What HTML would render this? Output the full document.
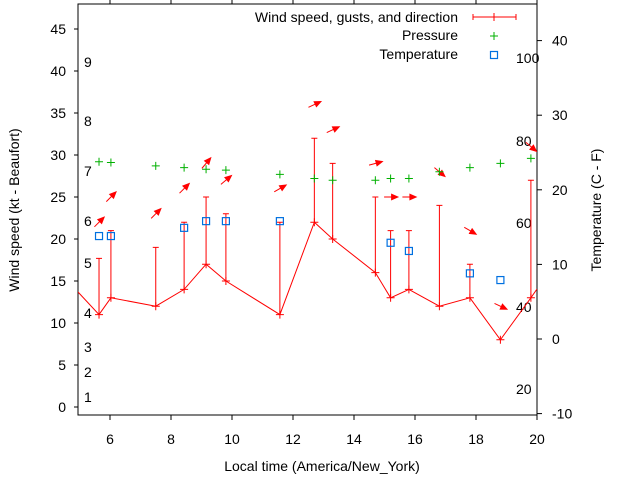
<!DOCTYPE html>
<html><head><meta charset="utf-8"><style>
body{margin:0;background:#fff}
svg text{font-family:"Liberation Sans",sans-serif;}
</style></head><body>
<svg id="c" width="640" height="480" xmlns="http://www.w3.org/2000/svg"></svg>
<script>
const times=[5.64,6.03,7.5,8.43,9.15,9.8,11.57,12.7,13.3,14.7,15.2,15.8,16.8,17.8,18.8,19.8];
const wind=[11,13,12,14,17,15,11,22,20,16,13,14,12,13,8,13];
const gusts=[17.7,21,19,22,25,23,22,32,29,25,21,21,24,17,null,27];
const pressure=[29.2,29.1,28.7,28.5,28.3,28.2,27.7,27.2,27,27,27.2,27.2,28,28.5,29,29.6];
const arrowY=[22,25,23,26,29,27,26,36,33,29,25,25,28,21,12,31];
const arrowDir=[-45,-45,-45,-45,-50,-40,-30,-25,-25,-15,0,0,40,30,25,40];
const tempTimes=[5.64,6.03,8.43,9.15,9.8,11.57,15.2,15.8,17.8,18.8];
const tempC=[13.8,13.8,14.9,15.8,15.8,15.8,12.9,11.8,8.8,7.9];
const xTicks=[6,8,10,12,14,16,18,20];
const yTicks=[0,5,10,15,20,25,30,35,40,45];
const y2Ticks=[-10,0,10,20,30,40];
const beaufort=[[1,397],[2,372],[3,347],[4,313],[5,263],[6,221],[7,171],[8,121],[9,62]];
const fLabels=[[100,58],[80,141],[60,223],[40,307],[20,389]];

const L=78,R=537,T=4,B=415;
const X=h=>79.5+(h-5)*30.5;
const Y=v=>407-v*8.4;
const Y2=c=>339-c*7.46;
const svg=document.getElementById('c');
const NS='http://www.w3.org/2000/svg';
function mk(tag,attrs,parent){const e=document.createElementNS(NS,tag);for(const k in attrs)e.setAttribute(k,attrs[k]);(parent||svg).appendChild(e);return e;}
function txt(x,y,s,anchor,extra){const t=mk('text',Object.assign({x:x,y:y,'font-size':14,fill:'#000','text-anchor':anchor||'start'},extra||{}));t.textContent=s;return t;}

const clip=mk('clipPath',{id:'cp'});mk('rect',{x:L,y:T,width:R-L,height:B-T},clip);

// axes frame
const frame=mk('rect',{x:L,y:T,width:R-L,height:B-T,fill:'none',stroke:'#000','stroke-width':1});



xTicks.forEach(h=>{
  const x=X(h);
  mk('line',{x1:x,y1:B,x2:x,y2:B+5,stroke:'#000'});
  mk('line',{x1:x,y1:T,x2:x,y2:T-4,stroke:'#000'});
  const t=txt(x,444,String(h),'middle');
  
  
});
yTicks.forEach(v=>{
  const y=Y(v);
  mk('line',{x1:L,y1:y,x2:L-4,y2:y,stroke:'#000'});
  const t=txt(66,y+5,String(v),'end');
  
  
});
y2Ticks.forEach(v=>{
  const y=Y2(v);
  mk('line',{x1:R,y1:y,x2:R+5,y2:y,stroke:'#000'});
  const t=txt(552,y+5,String(v),'start');
  
  
});
beaufort.forEach(b=>{
  const t=txt(84,b[1]+5,String(b[0]),'start');
  
  
});
fLabels.forEach(b=>{
  const t=txt(516,b[1]+5,String(b[0]),'start');
  
  
});

let t=txt(322,471,'Local time (America/New_York)','middle');


t=txt(0,0,'Wind speed (kt - Beaufort)','middle',{transform:'translate(19,210) rotate(-90)'});


t=txt(0,0,'Temperature (C - F)','middle',{transform:'translate(601,210) rotate(-90)'});



const g=mk('g',{'clip-path':'url(#cp)'});
// wind line, extended to edges
let pts=[[L,292]].concat(times.map((h,i)=>[X(h),Y(wind[i])])).concat([[R,289]]);
const pl=mk('polyline',{points:pts.map(p=>p.join(',')).join(' '),fill:'none',stroke:'#f00','stroke-width':1},g);


times.forEach((h,i)=>{
  const x=X(h),y=Y(wind[i]);
  mk('path',{d:`M${x-4} ${y}H${x+4}M${x} ${y-4}V${y+4}`,stroke:'#f00'},g);
  if(gusts[i]!=null){
    const gy=Y(gusts[i]);
    const e=mk('path',{d:`M${x} ${y}V${gy}M${x-3} ${gy}H${x+3}`,stroke:'#f00'},g);
    
    
  }
  // direction arrow
  const ay=Y(arrowY[i]),a=arrowDir[i]*Math.PI/180,len=13;
  const dx=Math.cos(a),dy=Math.sin(a);
  const x0=x-dx*len/2,y0=ay-dy*len/2,x1=x+dx*len/2,y1=ay+dy*len/2;
  const px=-dy,py=dx;
  const ar=mk('g',{},g);
  
  
  mk('line',{x1:x0,y1:y0,x2:x1,y2:y1,stroke:'#f00'},ar);
  mk('polygon',{points:`${x1+dx*2},${y1+dy*2} ${x1-dx*6+px*3.5},${y1-dy*6+py*3.5} ${x1-dx*6-px*3.5},${y1-dy*6-py*3.5}`,fill:'#f00'},ar);
});
times.forEach((h,i)=>{
  const x=X(h),y=Y(pressure[i]);
  const p=mk('path',{d:`M${x-4} ${y}H${x+4}M${x} ${y-4}V${y+4}`,stroke:'#00b000'},g);
  
  
});
tempTimes.forEach((h,i)=>{
  const x=X(h),y=Y2(tempC[i]);
  const r=mk('rect',{x:x-3.5,y:y-3.5,width:7,height:7,fill:'none',stroke:'#0070e0','stroke-width':1.2},g);
  
  
});

// legend
t=txt(458,22,'Wind speed, gusts, and direction','end');


mk('path',{d:'M473 17H516M473 14V20M516 14V20M494 13V21',stroke:'#f00'});
t=txt(458,40,'Pressure','end');


mk('path',{d:'M490 36H498M494 32V40',stroke:'#00b000'});
t=txt(458,59,'Temperature','end');


mk('rect',{x:490.5,y:51.5,width:7,height:7,fill:'none',stroke:'#0070e0','stroke-width':1.2});
</script>
</body></html>
